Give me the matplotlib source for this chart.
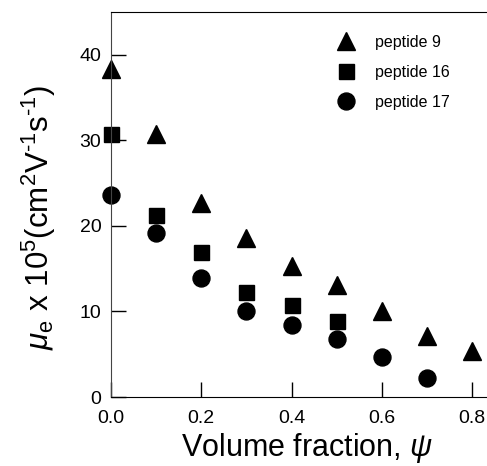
import numpy as np
import matplotlib.pyplot as plt

plt.rcParams['font.family'] = 'Liberation Sans'
plt.rcParams['mathtext.fontset'] = 'custom'
plt.rcParams['mathtext.rm'] = 'Liberation Sans'
plt.rcParams['mathtext.it'] = 'Liberation Sans:italic'

# Daten
x_9 = [0.0, 0.1, 0.2, 0.3, 0.4, 0.5, 0.6, 0.7, 0.8]
y_9 = [38.3, 30.7, 22.7, 18.6, 15.3, 13.1, 10.1, 7.1, 5.4]

x_16 = [0.0, 0.1, 0.2, 0.3, 0.4, 0.5]
y_16 = [30.7, 21.3, 17.0, 12.3, 10.8, 8.9]

x_17 = [0.0, 0.1, 0.2, 0.3, 0.4, 0.5, 0.6, 0.7]
y_17 = [23.6, 19.2, 13.9, 10.0, 8.4, 6.8, 4.7, 2.2]

fig = plt.figure(figsize=(4.87, 4.66), dpi=100)
ax = fig.add_axes([0.228, 0.148, 0.772, 0.826])

ax.plot(x_9, y_9, '^', color='black', markersize=12.5, label='peptide 9', clip_on=False)
ax.plot(x_16, y_16, 's', color='black', markersize=10.8, label='peptide 16', clip_on=False)
ax.plot(x_17, y_17, 'o', color='black', markersize=12.2, label='peptide 17', clip_on=False)

ax.set_xlim(0, 0.833)
ax.set_ylim(0, 45)
ax.set_xticks([0.0, 0.2, 0.4, 0.6, 0.8])
ax.set_xticklabels(['0.0', '0.2', '0.4', '0.6', '0.8'])
ax.set_yticks([0, 10, 20, 30, 40])
ax.tick_params(direction='in', length=11, width=1, labelsize=14)
ax.tick_params(axis='x', pad=9)
ax.tick_params(axis='y', pad=7)
ax.spines['right'].set_visible(False)
ax.spines['left'].set_color('#444444')

ax.set_xlabel(r'Volume fraction, $\psi$', fontsize=22, va='top')
ax.xaxis.set_label_coords(0.521, -0.088)
ax.set_ylabel(r'$\mu_{\mathrm{e}}$ x 10$^5$(cm$^2$V$^{\text{-}1}$s$^{\text{-}1}$)', fontsize=22.5)
ax.yaxis.set_label_coords(-0.141, 0.468)

ax.legend(frameon=False, loc='upper left', bbox_to_anchor=(0.565, 0.958),
          fontsize=11.5, handletextpad=0.8, labelspacing=0.95, borderaxespad=0)

fig.savefig('out.png', dpi=100)
